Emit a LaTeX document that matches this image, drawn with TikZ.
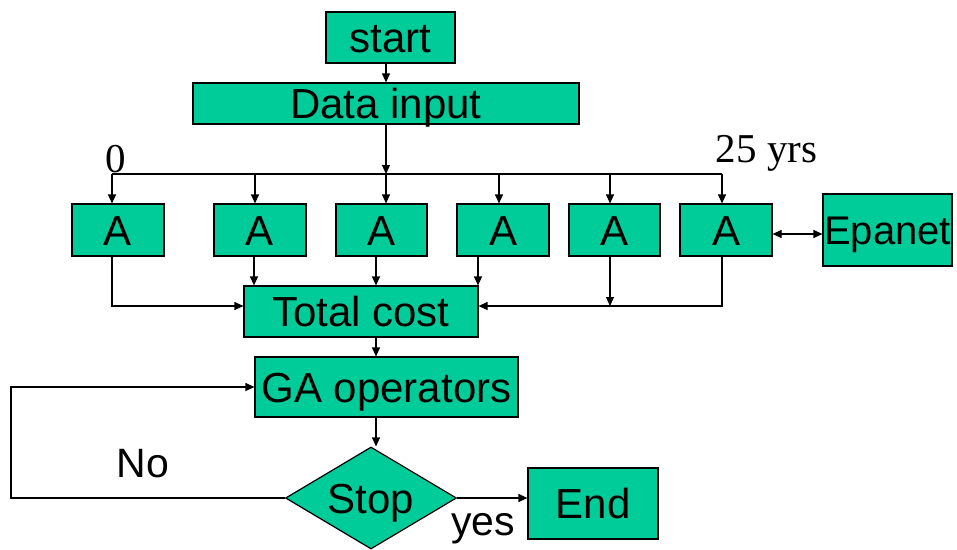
\documentclass[tikz,border=0pt]{standalone}
\usepackage{fontspec}
\setmainfont{Liberation Sans}
\newfontfamily\serifnum{Liberation Serif}
\usetikzlibrary{arrows.meta,shapes.geometric}
\definecolor{boxgreen}{RGB}{0,204,153}
\begin{document}
\begin{tikzpicture}[x=1pt,y=-1pt,
  every node/.style={inner sep=0pt},
  box/.style={draw=black,line width=1.2pt,fill=boxgreen,rectangle,
    font=\fontsize{42}{42}\selectfont,text height=30pt,text depth=0pt},
  decision/.style={draw=black,line width=1.2pt,fill=boxgreen,diamond,aspect=1.68,
    font=\fontsize{42}{42}\selectfont,text height=30pt,text depth=0pt},
  link/.style={line width=1.2pt},
  arr/.style={link,-{Triangle[length=9pt,width=8pt]}},
  darr/.style={link,{Triangle[length=9pt,width=8pt]}-{Triangle[length=9pt,width=8pt]}},
  lbl/.style={font=\fontsize{41}{41}\selectfont,anchor=base},
  serif/.style={font=\serifnum\fontsize{41}{41}\selectfont,anchor=base}]
\useasboundingbox (0,0) rectangle (957,549);

% boxes
\node[box,minimum width=129,minimum height=51] (start) at (390.5,37.5) {start};
\node[box,minimum width=386,minimum height=41] (data) at (386,103.5) {Data input};
\node[box,minimum width=92,minimum height=52] (A1) at (118,230) {A};
\node[box,minimum width=92,minimum height=52] (A2) at (260,230) {A};
\node[box,minimum width=91,minimum height=52] (A3) at (381.5,230) {A};
\node[box,minimum width=92,minimum height=52] (A4) at (503,230) {A};
\node[box,minimum width=91,minimum height=52] (A5) at (614.5,230) {A};
\node[box,minimum width=92,minimum height=52] (A6) at (726,230) {A};
\node[box,minimum width=129,minimum height=72,font=\fontsize{40}{40}\selectfont,text height=28.6pt] (epa) at (887.5,230) {Epanet};
\node[box,minimum width=234,minimum height=51] (tc) at (361,311.5) {Total cost};
\node[box,minimum width=263,minimum height=60] (ga) at (386.5,387) {GA operators};
\node[decision,minimum width=171,minimum height=102] (stop) at (371,498) {Stop};
\node[box,minimum width=130,minimum height=71] (end) at (593,503.5) {End};

% distribution bus
\coordinate (b1) at (112,174);
\coordinate (b2) at (255,174);
\coordinate (b3) at (386,174);
\coordinate (b4) at (499,174);
\coordinate (b5) at (610,174);
\coordinate (b6) at (722,174);
\coordinate (j1) at (112,306);
\coordinate (j5) at (610,306);
\coordinate (j6) at (722,306);
\coordinate (c2) at (254,0);
\coordinate (c3) at (376,0);
\coordinate (c4) at (478,0);
\coordinate (e6) at (0,234);

\draw[arr] (start.south -| data.north) -- (data.north);
\draw[arr] (data.south) -- (b3);
\draw[link] (b1) -- (b6);
\foreach \i in {1,...,6} {\draw[arr] (b\i) -- (b\i |- A\i.north);}

% collecting the yearly costs
\draw[arr] (b1 |- A1.south) -- (j1) -- (j1 -| tc.west);
\draw[arr] (c2 |- A2.south) -- (c2 |- tc.north);
\draw[arr] (c3 |- A3.south) -- (c3 |- tc.north);
\draw[arr] (c4 |- A4.south) -- (c4 |- tc.north);
\draw[arr] (b5 |- A5.south) -- (j5);
\draw[arr] (b6 |- A6.south) -- (j6) -- (j6 -| tc.east);
\draw[darr] (A6.east |- e6) -- (epa.west |- e6);

% optimisation loop
\draw[arr] (c3 |- tc.south) -- (c3 |- ga.north);
\draw[arr] (c3 |- ga.south) -- (c3 |- stop.north);
\coordinate (l1) at (11,498);
\coordinate (l2) at (11,387);
\draw[arr] (stop.west) -- (l1) -- (l2) -- (ga.west);
\draw[arr] (stop.east) -- (stop.east -| end.west);

% labels
\node[serif] (t0) at (116,172) {0};
\node[serif] (t25) at (766.5,162) {25 yrs};
\node[lbl] (tno) at (143,477) {No};
\node[lbl] (tyes) at (483,535) {yes};
\end{tikzpicture}
\end{document}
